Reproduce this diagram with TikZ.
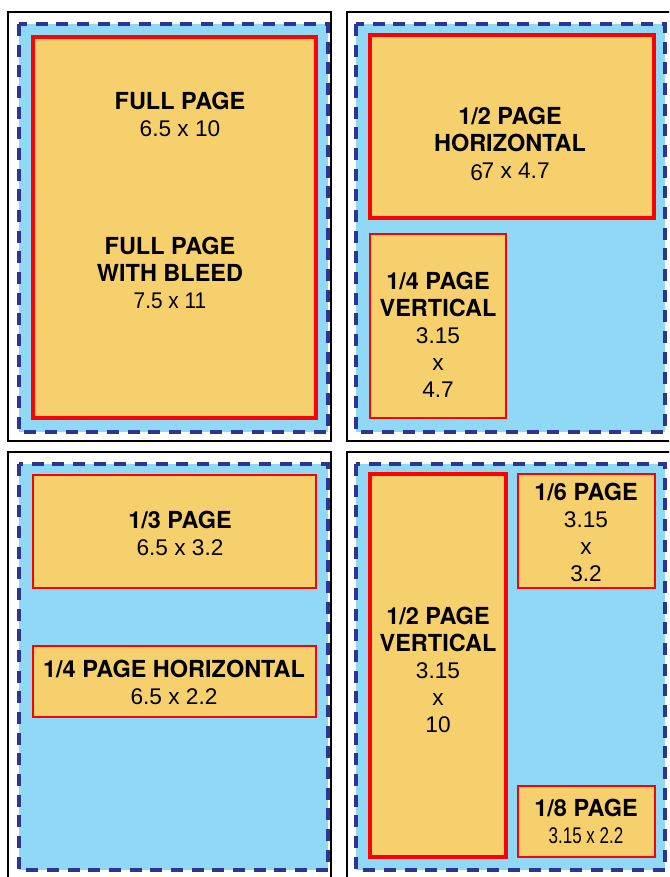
\documentclass[tikz,border=0pt]{standalone}
\usepackage{fontspec}
\setmainfont{TeX Gyre Heros}
\newfontfamily\dimfont{Liberation Sans}
\usetikzlibrary{positioning}

\definecolor{adyellow}{RGB}{247,208,110}
\definecolor{bleedblue}{RGB}{143,216,246}
\definecolor{trimblue}{RGB}{44,52,148}
\definecolor{adred}{RGB}{255,0,0}

\tikzset{
	pageframe/.style={draw=black, line width=1.5},
	bleedarea/.style={fill=bleedblue, draw=trimblue, line width=2.6, dash pattern=on 9 off 6.5},
	adbox/.style={fill=adyellow, draw=adred, line width=1.1},
	adboxthick/.style={adbox, line width=2.4},
	adlabel/.style={font=\dimfont\fontsize{17}{20.25}\selectfont, align=center, inner sep=0pt}
}
\newcommand{\adtitle}[1]{{\fontspec{TeX Gyre Heros}\fontsize{17.6}{20.25}\selectfont\bfseries #1}}

\begin{document}
\begin{tikzpicture}[x=0.75pt, y=-0.75pt]
	\useasboundingbox (0, 0) rectangle (669, 877);
	\begin{scope}
		\clip (0, 0) rectangle (669, 877);
		% page frames
		\draw[pageframe] (8, 12) rectangle (331, 441);
		\draw[pageframe] (347, 12) rectangle (680, 441);
		\draw[pageframe] (8, 452) rectangle (331, 890);
		\draw[pageframe] (347, 452) rectangle (680, 890);
		% bleed areas
		\filldraw[bleedarea] (19, 24) rectangle (328, 432);
		\filldraw[bleedarea] (356, 24) rectangle (665, 432);
		\filldraw[bleedarea] (19, 464) rectangle (328, 870);
		\filldraw[bleedarea] (356, 464) rectangle (665, 870);
		% ad boxes
		\filldraw[adboxthick] (33, 37) rectangle (316, 418);
		\filldraw[adboxthick] (370, 35) rectangle (654, 218);
		\filldraw[adbox] (370, 234) rectangle (506, 418);
		\filldraw[adbox] (33, 475) rectangle (316, 588);
		\filldraw[adbox] (33, 646) rectangle (316, 717);
		\filldraw[adboxthick] (370, 474) rectangle (506, 857);
		\filldraw[adbox] (518, 474) rectangle (655, 588);
		\filldraw[adbox] (518, 786) rectangle (655, 857);
	\end{scope}
	% labels
	\node[adlabel] (fullpage) at (180, 114) {\adtitle{FULL PAGE}\\6.5 x 10};
	\node[adlabel] (fullbleed) at (170, 273) {\adtitle{FULL PAGE}\\\adtitle{WITH BLEED}\\\scalebox{0.92}[1]{7.5 x 11}};
	\node[adlabel] (halfhoriz) at (510, 144) {\adtitle{1/2 PAGE}\\\adtitle{HORIZONTAL}\\\raisebox{-2pt}{6}\kern-1pt 7 x 4.7};
	\node[adlabel] (quartervert) at (438, 335) {\adtitle{1/4 PAGE}\\\adtitle{VERTICAL}\\3.15\\x\\4.7};
	\node[adlabel] (third) at (180, 533) {\adtitle{1/3 PAGE}\\6.5 x 3.2};
	\node[adlabel] (quarterhoriz) at (174, 682) {\adtitle{1/4 PAGE HORIZONTAL}\\6.5 x 2.2};
	\node[adlabel] (halfvert) at (438, 670) {\adtitle{1/2 PAGE}\\\adtitle{VERTICAL}\\3.15\\x\\10};
	\node[adlabel] (sixth) at (586, 532) {\adtitle{1/6 PAGE}\\3.15\\x\\3.2};
	\node[adlabel] (eighth) at (586, 821) {\adtitle{1/8 PAGE}\\\scalebox{0.75}[1]{3.15 x 2.2}};
\end{tikzpicture}
\end{document}
